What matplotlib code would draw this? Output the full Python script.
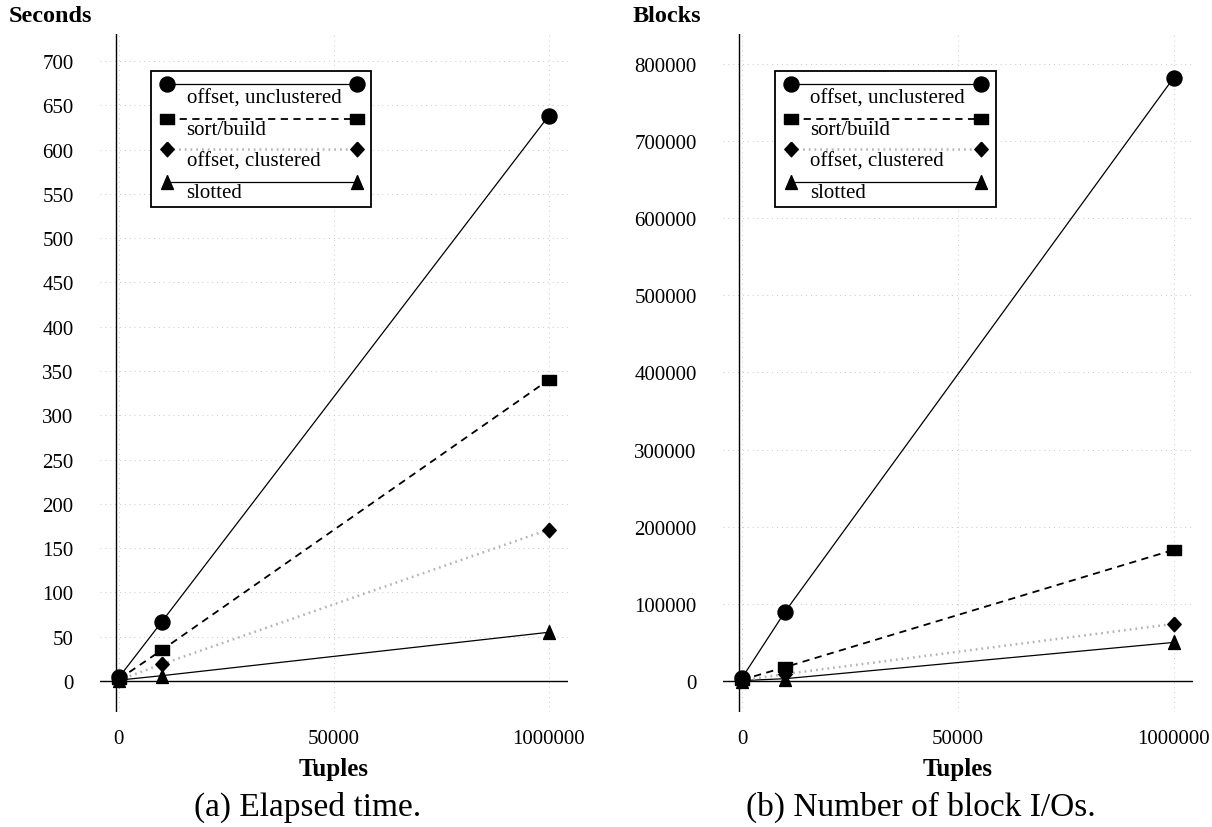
import numpy as np
import matplotlib
matplotlib.use("Agg")
import matplotlib.pyplot as plt
from matplotlib.patches import Rectangle
from matplotlib.lines import Line2D

plt.rcParams['font.family'] = ['Liberation Serif', 'DejaVu Serif']

# measurements
tuples = [0, 10000, 1000000]
series_names = ["offset, unclustered", "sort/build", "offset, clustered", "slotted"]

seconds_unclustered = [4, 67, 638]
seconds_sort_build = [2, 35, 340]
seconds_clustered = [1, 19, 171]
seconds_slotted = [1, 6, 55]

blocks_unclustered = [4000, 90000, 782000]
blocks_sort_build = [1500, 18000, 170000]
blocks_clustered = [800, 9000, 74000]
blocks_slotted = [500, 3000, 50000]

x_ticks = [0, 50000, 1000000]
x_tick_labels = ["0", "50000", "1000000"]
seconds_ticks = list(range(0, 701, 50))
blocks_ticks = list(range(0, 800001, 100000))

# markers
rect = [(-1, -0.7), (1, -0.7), (1, 0.7), (-1, 0.7), (-1, -0.7)]
diamond = [(0, 1), (0.92, 0), (0, -1), (-0.92, 0), (0, 1)]
triangle = [(0, 1), (-0.85, -1), (0.85, -1), (0, 1)]

styles = [
    dict(color='black', lw=0.9, ls='-', marker='o', ms=10.8),
    dict(color='black', lw=1.3, ls=(0, (4, 3)), marker=rect, ms=10.6),
    dict(color='#b4b4b4', lw=1.8, ls=(0, (0.7, 1.6)), marker=diamond, ms=10.5),
    dict(color='black', lw=0.9, ls='-', marker=triangle, ms=10.0),
]


def fwd(x):
    x = np.asarray(x, dtype=float)
    return np.where(x <= 50000, x / 50000.0, 1 + (x - 50000) / 950000.0)


def inv(u):
    u = np.asarray(u, dtype=float)
    return np.where(u <= 1, u * 50000.0, 50000 + (u - 1) * 950000.0)


def draw_panel(ax, values, yticks, ylim, ylabel, caption, caption_x):
    ax.set_xscale('function', functions=(fwd, inv))
    ax.set_xlim(float(inv(-0.088)), float(inv(2.09)))
    ax.set_ylim(*ylim)

    for sp in ax.spines.values():
        sp.set_visible(False)
    ax.grid(True, color='#c8c8c8', lw=0.7, ls=(0, (1, 4)))
    ax.set_axisbelow(True)

    ax.axhline(0, color='black', lw=1.0, zorder=2)
    ax.axvline(float(inv(-0.012)), color='black', lw=1.0, zorder=2)

    ax.set_xticks(x_ticks)
    ax.set_xticklabels(x_tick_labels)
    ax.set_yticks(yticks)
    ax.set_yticklabels([str(t) for t in yticks])
    ax.tick_params(length=0, labelsize=15)
    ax.tick_params(axis='y', pad=19)
    ax.tick_params(axis='x', pad=12)
    ax.set_xlabel("Tuples", fontsize=18, fontweight='bold', labelpad=7)

    # series, drawn so the first one ends up on top
    for vals, st in reversed(list(zip(values, styles))):
        ax.plot(tuples, vals, color=st['color'], lw=st['lw'], ls=st['ls'],
                marker=st['marker'], ms=st['ms'], mfc='black', mec='black',
                zorder=3, clip_on=False)

    # legend box: marker at both ends of the line sample, name underneath
    tr = ax.transAxes
    bx, btop, bw, bh = 0.11, 0.946, 0.47, 0.2006
    ax.add_patch(Rectangle((bx, btop - bh), bw, bh, transform=tr, fill=True,
                           facecolor='white', edgecolor='black', lw=1.3, zorder=5))
    row_y = [0.0202, 0.0708, 0.115, 0.1637]
    text_y = [0.0398, 0.087, 0.134, 0.18]
    for name, st, ry, ty in zip(series_names, styles, row_y, text_y):
        y = btop - ry
        ax.add_line(Line2D([bx + 0.034, bx + bw - 0.031], [y, y], transform=tr,
                           color=st['color'], lw=st['lw'], ls=st['ls'],
                           marker=st['marker'], ms=st['ms'], mfc='black',
                           mec='black', zorder=6))
        ax.text(bx + 0.075, btop - ty, name, transform=tr, fontsize=15,
                va='center', ha='left', zorder=7)

    fig.text(ylabel[1], 1 - 17 / 828, ylabel[0], fontsize=17.5, fontweight='bold',
             ha='left', va='center')
    fig.text(caption_x, 1 - 807 / 828, caption, fontsize=24, ha='center', va='center')


fig = plt.figure(figsize=(12.12, 8.28), dpi=100)
W, H = 1212.0, 828.0
ax1 = fig.add_axes([100 / W, (H - 713) / H, 468 / W, 678 / H])
ax2 = fig.add_axes([723 / W, (H - 713) / H, 470 / W, 678 / H])

draw_panel(ax1, [seconds_unclustered, seconds_sort_build, seconds_clustered, seconds_slotted],
           seconds_ticks, (-35, 730.5), ("Seconds", 9 / W), "(a) Elapsed time.", 308 / W)
draw_panel(ax2, [blocks_unclustered, blocks_sort_build, blocks_clustered, blocks_slotted],
           blocks_ticks, (-40200, 838900), ("Blocks", 633 / W), "(b) Number of block I/Os.", 921 / W)

fig.savefig("out.png", dpi=100, facecolor='white')
